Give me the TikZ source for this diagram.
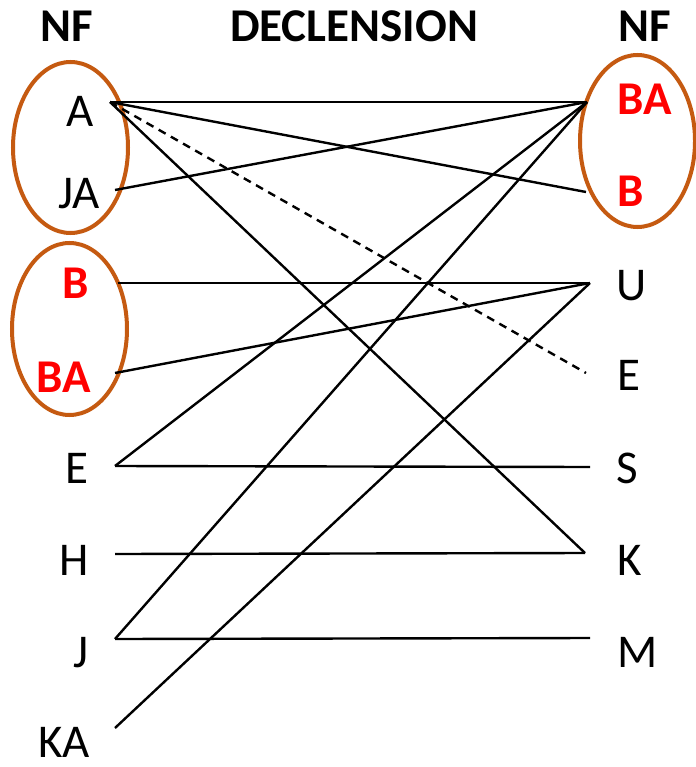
\documentclass[tikz,border=0pt]{standalone}
\usepackage{fontspec}
\setmainfont{Carlito}
\definecolor{ovalc}{HTML}{C55A11}
\definecolor{redt}{HTML}{FF0000}
\begin{document}
\begin{tikzpicture}[x=1pt,y=-1pt,
  lbl/.style={inner sep=0pt,font=\fontsize{47}{50}\selectfont},
  llbl/.style={lbl,anchor=base east},
  rlbl/.style={lbl,anchor=base west},
  hdr/.style={inner sep=0pt,anchor=base,font=\fontsize{47}{50}\selectfont\bfseries},
  redlbl/.style={text=redt,font=\fontsize{47}{50}\selectfont\bfseries},
  conn/.style={line width=2.4pt},
  dconn/.style={line width=2.4pt,dash pattern=on 8pt off 6pt},
  oval/.style={draw=ovalc,line width=4pt}]
\useasboundingbox (0,0) rectangle (695,767);
% headers
\node[hdr] (h1) at (67,42) {NF};
\node[hdr] (h2) at (354,42) {DECLENSION};
\node[hdr] (h3) at (645,42) {NF};
% ovals
\draw[oval] (70.5,147.5) ellipse [x radius=57.5, y radius=85.5];
\draw[oval] (69.5,329) ellipse [x radius=57.5, y radius=86];
\draw[oval] (637.5,141) ellipse [x radius=57.5, y radius=86];
% left labels
\node[llbl] (LA) at (94,127) {A};
\node[llbl] (LJA) at (100,208) {JA};
\node[llbl,redlbl] (LB) at (89,298) {B};
\node[llbl,redlbl] (LBA) at (91,392) {BA};
\node[llbl] (LE) at (89,483) {E};
\node[llbl] (LH) at (89,575) {H};
\node[llbl] (LJ) at (89,667) {J};
\node[llbl] (LKA) at (90,757) {KA};
% right labels
\node[rlbl,redlbl] (RBA) at (617,115) {BA};
\node[rlbl,redlbl] (RB) at (617,207) {B};
\node[rlbl] (RU) at (616,300) {U};
\node[rlbl] (RE) at (617,390) {E};
\node[rlbl] (RS) at (616,483) {S};
\node[rlbl] (RK) at (617,575) {K};
\node[rlbl] (RM) at (617,667) {M};
% connector ends
\coordinate (pA) at (110,102);
\coordinate (pJA) at (115,190);
\coordinate (pB) at (118,283);
\coordinate (pBA) at (115,373);
\coordinate (pE) at (115,466);
\coordinate (pH) at (115,554);
\coordinate (pJ) at (115,639);
\coordinate (pKA) at (115,728);
\coordinate (qBA) at (587,102);
\coordinate (qB) at (586,192);
\coordinate (qU) at (590,283);
\coordinate (qE) at (586,373);
\coordinate (qS) at (590,467);
\coordinate (qK) at (585,553);
\coordinate (qM) at (590,638);
% connectors
\draw[conn] (pA) -- (qBA);
\draw[conn] (pA) -- (qB);
\draw[dconn] (pA) -- (qE);
\draw[conn] (pA) -- (qK);
\draw[conn] (pJA) -- (qBA);
\draw[conn] (pB) -- (qU);
\draw[conn] (pBA) -- (qU);
\draw[conn] (pE) -- (qBA);
\draw[conn] (pE) -- (qS);
\draw[conn] (pH) -- (qK);
\draw[conn] (pJ) -- (qBA);
\draw[conn] (pJ) -- (qM);
\draw[conn] (pKA) -- (qU);
\end{tikzpicture}
\end{document}
